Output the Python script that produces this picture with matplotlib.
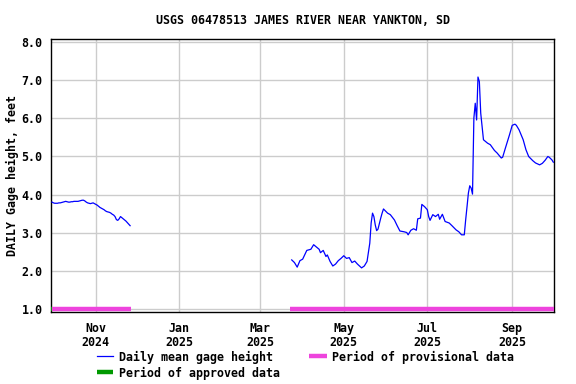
#!/usr/bin/env python3
"""USGS daily gage height plot, James River near Yankton SD."""

import matplotlib

matplotlib.use("Agg")
import matplotlib.pyplot as plt
import numpy as np
from matplotlib.lines import Line2D

# fall 2024 segment: daily values starting 2024-09-30
seg1_start = np.datetime64("2024-09-30")
seg1_vals = [
    3.80, 3.78, 3.77, 3.77, 3.77, 3.78, 3.78, 3.79, 3.80, 3.81,
    3.82, 3.81, 3.80, 3.80, 3.81, 3.81, 3.82, 3.82, 3.82, 3.82,
    3.83, 3.84, 3.85, 3.85, 3.83, 3.80, 3.78, 3.77, 3.76, 3.77,
    3.78, 3.76, 3.74, 3.72, 3.69, 3.66, 3.64, 3.62, 3.60, 3.57,
    3.55, 3.54, 3.53, 3.51, 3.48, 3.46, 3.42, 3.34, 3.32, 3.36,
    3.42, 3.39, 3.36, 3.33, 3.30, 3.26, 3.22, 3.18,
]

# 2025 segment: readings as (days from 2025-05-01, feet)
seg2_ref = np.datetime64("2025-05-01")
seg2_days = [
    -38, -36, -34, -32, -30, -27, -24, -22, -20, -18, -17, -15, -13, -12,
    -10, -8, -6, -4, -2, 0, 2, 4, 6, 8, 10, 13, 15, 17, 19, 20, 21, 22,
    23, 24, 25, 27, 28, 29, 32, 34, 37, 39, 41, 44, 46, 47, 49, 51, 53,
    54, 56, 57, 59, 61, 62, 63, 65, 67, 69, 70, 72, 74, 77, 79, 82, 84,
    86, 88, 89, 90, 91, 92, 93, 94, 95, 96, 97, 98, 99, 100, 101, 102,
    105, 107, 110, 112, 115, 116, 118, 121, 123, 125, 126, 128, 131, 133,
    135, 138, 140, 143, 145, 147, 149, 150, 152, 153,
]
seg2_vals = [
    2.28, 2.21, 2.09, 2.26, 2.30, 2.53, 2.56, 2.68, 2.62, 2.56, 2.47, 2.53, 2.37, 2.41,
    2.24, 2.12, 2.17, 2.26, 2.32, 2.39, 2.32, 2.34, 2.21, 2.25, 2.17, 2.07, 2.12, 2.24,
    2.72, 3.25, 3.51, 3.42, 3.20, 3.05, 3.09, 3.38, 3.51, 3.62, 3.51, 3.47, 3.33, 3.18,
    3.04, 3.02, 3.00, 2.94, 3.06, 3.10, 3.06, 3.36, 3.38, 3.74, 3.68, 3.60, 3.42, 3.32,
    3.47, 3.42, 3.48, 3.35, 3.48, 3.29, 3.25, 3.18, 3.07, 3.02, 2.94, 2.94, 3.33, 3.68,
    4.04, 4.23, 4.17, 4.01, 6.01, 6.40, 5.96, 7.09, 6.97, 6.14, 5.79, 5.44, 5.35, 5.31,
    5.16, 5.09, 4.96, 4.98, 5.22, 5.57, 5.82, 5.85, 5.82, 5.70, 5.44, 5.18, 5.00, 4.89,
    4.83, 4.78, 4.82, 4.90, 5.00, 4.98, 4.91, 4.85,
]

# data-quality periods (start, end)
approved = [("2024-09-29 06:00", "2024-09-30")]
provisional = [("2024-09-30", "2024-11-26 12:00"), ("2025-03-23", "2025-10-02")]

x_ticks = ["2024-11-01", "2025-01-01", "2025-03-01", "2025-05-01", "2025-07-01", "2025-09-01"]
x_labels = ["Nov\n2024", "Jan\n2025", "Mar\n2025", "May\n2025", "Jul\n2025", "Sep\n2025"]
y_ticks = [1, 2, 3, 4, 5, 6, 7, 8]

FONT = {"family": "DejaVu Sans Mono", "weight": "bold", "size": 8.4}
W, H = 576, 384


def to_dt(values):
    return np.array(values, dtype="datetime64[m]").astype("O")


def fx(px):
    return px / W


def fy(py):
    return 1 - py / H


fig = plt.figure(figsize=(W / 100, H / 100), dpi=100)
ax = fig.add_axes([fx(51), fy(312), fx(554) - fx(51), fy(39) - fy(312)])

t1 = (seg1_start + np.arange(len(seg1_vals))).astype("datetime64[m]").astype("O")
t2 = (seg2_ref + np.array(seg2_days)).astype("datetime64[m]").astype("O")
ax.plot(t1, seg1_vals, color="#0000ff", lw=0.9, zorder=3)
ax.plot(t2, seg2_vals, color="#0000ff", lw=0.9, zorder=3)

for s, e in provisional:
    ax.plot(to_dt([s, e]), [1.0, 1.0], color="#ee44dd", lw=3.2,
            solid_capstyle="butt", zorder=4)
for s, e in approved:
    ax.plot(to_dt([s, e]), [1.0, 1.0], color="#009900", lw=3.2,
            solid_capstyle="butt", zorder=5)

ax.set_xlim(to_dt(["2024-09-29 06:00"])[0], to_dt(["2025-10-01 12:00"])[0])
ax.set_ylim(0.91, 8.09)
ax.set_xticks(to_dt(x_ticks))
ax.set_xticklabels(x_labels, fontdict=FONT, linespacing=1.15)
ax.set_yticks(y_ticks)
ax.set_yticklabels([f"{v:.1f}" for v in y_ticks], fontdict=FONT)
ax.tick_params(length=0)
ax.tick_params(axis="x", pad=7)
ax.tick_params(axis="y", pad=6)
ax.grid(True, color="#cccccc", lw=1.0, zorder=0)
ax.set_axisbelow(True)
for sp in ax.spines.values():
    sp.set_linewidth(1.0)
    sp.set_color("black")

ax.set_title("USGS 06478513 JAMES RIVER NEAR YANKTON, SD", fontdict=FONT, pad=11)
fig.text(fx(12), fy(176), "DAILY Gage height, feet", fontdict=FONT,
         rotation=90, ha="center", va="center")

# legend drawn below the plot
fig.add_artist(Line2D([fx(97), fx(113)], [fy(356), fy(356)], color="#0000ff", lw=0.9))
fig.text(fx(119), fy(357), "Daily mean gage height", fontdict=FONT, va="center")
fig.add_artist(Line2D([fx(309), fx(327)], [fy(356), fy(356)], color="#ee44dd",
                      lw=3.2, solid_capstyle="butt"))
fig.text(fx(332), fy(357), "Period of provisional data", fontdict=FONT, va="center")
fig.add_artist(Line2D([fx(97), fx(113)], [fy(372), fy(372)], color="#009900",
                      lw=3.2, solid_capstyle="butt"))
fig.text(fx(119), fy(373), "Period of approved data", fontdict=FONT, va="center")

fig.savefig("out.png", dpi=100)
